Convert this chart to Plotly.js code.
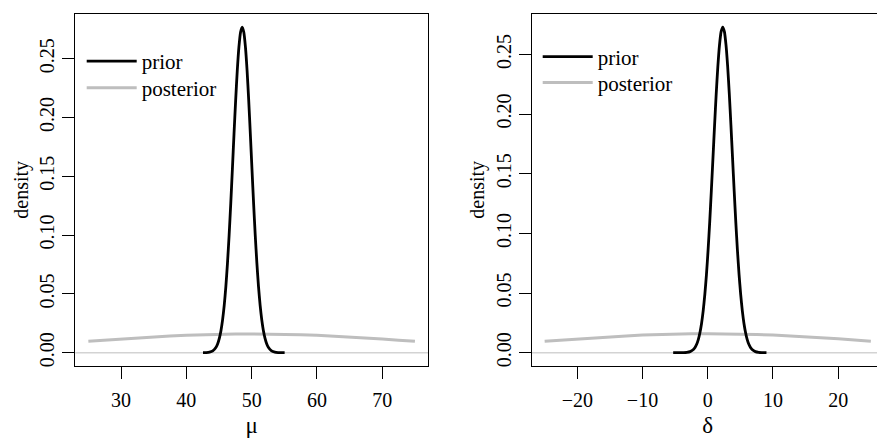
<!DOCTYPE html>
<html>
<head>
<meta charset="utf-8">
<script src="https://cdn.plot.ly/plotly-3.0.1.min.js"></script>
<style>
  html, body { margin: 0; padding: 0; width: 877px; height: 438px; overflow: hidden; background: #fff; }
  #chart { width: 885px; height: 438px; }
</style>
</head>
<body>
<div id="chart"></div>
<script>
// ---- Left panel (mu) ----
const muPriorX = [42.55, 43.05, 43.55, 44.05, 44.55, 44.8, 45.05, 45.3, 45.55, 45.8, 46.05, 46.3, 46.55, 46.8, 47.05, 47.3, 47.55, 47.8, 48.05, 48.3, 48.55, 48.8, 49.05, 49.3, 49.55, 49.8, 50.05, 50.3, 50.55, 50.8, 51.05, 51.3, 51.55, 51.8, 52.05, 52.3, 52.55, 53.05, 53.55, 54.05, 54.55, 55.05];
const muPriorY = [0.00003, 0.00012, 0.00047, 0.00158, 0.00467, 0.00766, 0.0122, 0.0187, 0.0279, 0.0402, 0.0562, 0.0762, 0.0999, 0.1268, 0.1560, 0.1860, 0.2146, 0.2400, 0.2599, 0.2726, 0.2770, 0.2726, 0.2599, 0.2400, 0.2146, 0.1860, 0.1560, 0.1268, 0.0999, 0.0762, 0.0562, 0.0402, 0.0279, 0.0187, 0.0122, 0.00766, 0.00467, 0.00158, 0.00047, 0.00012, 0.00003, 0.00001];
const muPostX = [25, 27.5, 30, 32.5, 35, 37.5, 40, 42.5, 45, 47.5, 50, 52.5, 55, 57.5, 60, 62.5, 65, 67.5, 70, 72.5, 75];
const muPostY = [0.00968, 0.01065, 0.01159, 0.01249, 0.01333, 0.01408, 0.01473, 0.01526, 0.01564, 0.01588, 0.01596, 0.01588, 0.01564, 0.01526, 0.01473, 0.01408, 0.01333, 0.01249, 0.01159, 0.01065, 0.00968];

// ---- Right panel (delta) ----
const dPriorX = [-5.3, -4.7, -4.2, -3.7, -3.2, -2.7, -2.2, -1.95, -1.7, -1.45, -1.2, -0.95, -0.7, -0.45, -0.2, 0.05, 0.3, 0.55, 0.8, 1.05, 1.3, 1.55, 1.8, 2.05, 2.3, 2.55, 2.8, 3.05, 3.3, 3.55, 3.8, 4.05, 4.3, 4.55, 4.8, 5.05, 5.3, 5.55, 5.8, 6.05, 6.3, 6.55, 6.8, 7.3, 7.8, 8.3, 9.0];
const dPriorY = [0, 0, 0.00002, 0.00007, 0.00027, 0.00091, 0.00268, 0.00442, 0.00707, 0.0110, 0.0167, 0.0245, 0.0350, 0.0486, 0.0655, 0.0859, 0.1095, 0.1357, 0.1633, 0.1911, 0.2173, 0.2401, 0.2578, 0.2691, 0.2730, 0.2691, 0.2578, 0.2401, 0.2173, 0.1911, 0.1633, 0.1357, 0.1095, 0.0859, 0.0655, 0.0486, 0.0350, 0.0245, 0.0167, 0.0110, 0.00707, 0.00442, 0.00268, 0.00091, 0.00027, 0.00007, 0.00001];
const dPostX = [-25, -22.5, -20, -17.5, -15, -12.5, -10, -7.5, -5, -2.5, 0, 2.5, 5, 7.5, 10, 12.5, 15, 17.5, 20, 22.5, 25];
const dPostY = [0.00968, 0.01065, 0.01159, 0.01249, 0.01333, 0.01408, 0.01473, 0.01526, 0.01564, 0.01588, 0.01596, 0.01588, 0.01564, 0.01526, 0.01473, 0.01408, 0.01333, 0.01249, 0.01159, 0.01065, 0.00968];

// ---- Ticks / labels ----
const muTicks = [30, 40, 50, 60, 70];
const dTicks = [-20, -10, 0, 10, 20];
const yTicks = [0, 0.05, 0.10, 0.15, 0.20, 0.25];
const seriesNames = ['prior', 'posterior'];
const xTitles = ['μ', 'δ'];
const yTitle = 'density';

const SERIF = 'Liberation Serif, Times New Roman, serif';
const BLACK = '#000000';
const GRAY = '#bebebe';

const traces = [
  {x: muPostX, y: muPostY, xaxis: 'x', yaxis: 'y', mode: 'lines', name: seriesNames[1], legend: 'legend2',
   line: {color: GRAY, width: 3}, hoverinfo: 'skip'},
  {x: muPriorX, y: muPriorY, xaxis: 'x', yaxis: 'y', mode: 'lines', name: seriesNames[0], legend: 'legend',
   line: {color: BLACK, width: 2.8, shape: 'spline', smoothing: 0.6}, hoverinfo: 'skip'},
  {x: dPostX, y: dPostY, xaxis: 'x2', yaxis: 'y2', mode: 'lines', name: seriesNames[1], legend: 'legend4',
   line: {color: GRAY, width: 3}, hoverinfo: 'skip'},
  {x: dPriorX, y: dPriorY, xaxis: 'x2', yaxis: 'y2', mode: 'lines', name: seriesNames[0], legend: 'legend3',
   line: {color: BLACK, width: 2.8, shape: 'spline', smoothing: 0.6}, hoverinfo: 'skip'}
];

function xAxis(domain, range, ticks, title, anchor) {
  return {
    domain: domain, range: range, anchor: anchor,
    tickmode: 'array', tickvals: ticks,
    ticks: 'outside', ticklen: 12, tickwidth: 1, tickcolor: BLACK,
    showline: true, linecolor: BLACK, linewidth: 1, mirror: true,
    showgrid: false, zeroline: false, automargin: false,
    ticklabelstandoff: 4,
    tickfont: {family: SERIF, size: 20, color: BLACK},
    title: {text: title, font: {family: SERIF, size: 23, color: BLACK}, standoff: 12},
    fixedrange: true
  };
}
function yAxis(domain, range, anchor) {
  return {
    domain: domain, range: range, anchor: anchor,
    tickmode: 'array', tickvals: yTicks, tickformat: '.2f', tickangle: -90,
    ticks: 'outside', ticklen: 12, tickwidth: 1, tickcolor: BLACK,
    showline: true, linecolor: BLACK, linewidth: 1, mirror: true,
    showgrid: false, zeroline: false, automargin: false,
    tickfont: {family: SERIF, size: 20, color: BLACK},
    title: {text: yTitle, font: {family: SERIF, size: 20, color: BLACK}, standoff: 2},
    fixedrange: true
  };
}

const W = 885, H = 438;
const yDom = [1 - 365.7 / H, 1 - 14 / H];

function legendAt(px, py) {
  return {
    x: px / W, y: 1 - py / H,
    xanchor: 'left', yanchor: 'top', bgcolor: 'rgba(0,0,0,0)', borderwidth: 0,
    font: {family: SERIF, size: 21, color: BLACK}, itemwidth: 50, tracegroupgap: 0
  };
}

const layout = {
  width: W, height: H,
  margin: {l: 0, r: 0, t: 0, b: 0},
  paper_bgcolor: '#ffffff', plot_bgcolor: '#ffffff',
  showlegend: true,
  xaxis: xAxis([75.3 / W, 428 / W], [23, 77], muTicks, xTitles[0], 'y'),
  yaxis: yAxis(yDom, [-0.01108, 0.28808], 'x'),
  xaxis2: xAxis([531.6 / W, 883.9 / W], [-27, 27], dTicks, xTitles[1], 'y2'),
  yaxis2: yAxis(yDom, [-0.01092, 0.28392], 'x2'),
  legend: legendAt(81.7, 41),
  legend2: legendAt(81.7, 67.6),
  legend3: legendAt(537.7, 36.4),
  legend4: legendAt(537.7, 62.4),
  shapes: [
    {type: 'line', xref: 'x domain', yref: 'y', x0: 0, x1: 1, y0: 0, y1: 0, layer: 'below', line: {color: '#d3d3d3', width: 1.5}},
    {type: 'line', xref: 'x2 domain', yref: 'y2', x0: 0, x1: 1, y0: 0, y1: 0, layer: 'below', line: {color: '#d3d3d3', width: 1.5}}
  ]
};

Plotly.newPlot('chart', traces, layout, {displayModeBar: false, staticPlot: true});
</script>
</body>
</html>
